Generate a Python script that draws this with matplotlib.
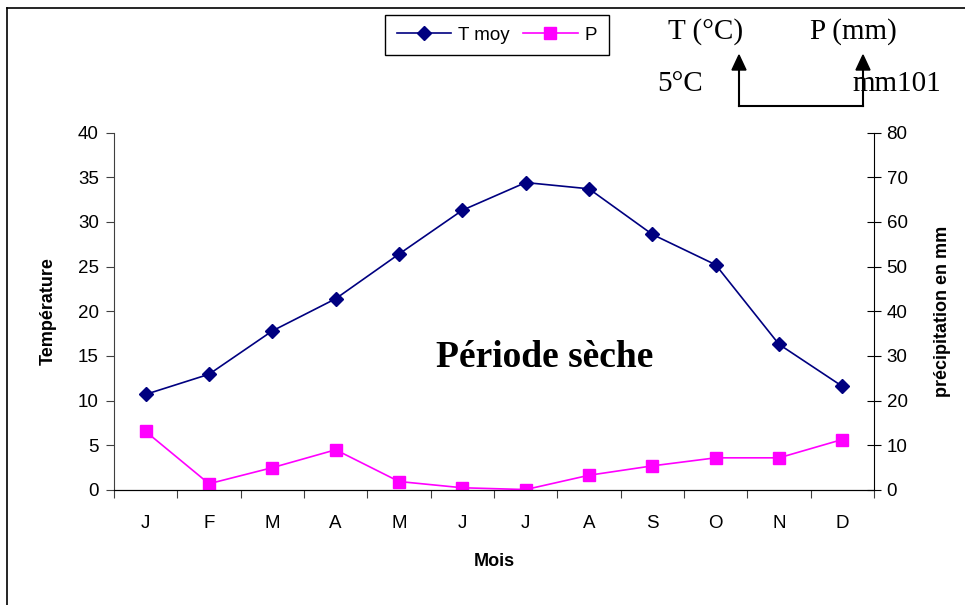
import matplotlib.pyplot as plt
from matplotlib.lines import Line2D

# Données climatiques mensuelles
mois = ['J', 'F', 'M', 'A', 'M', 'J', 'J', 'A', 'S', 'O', 'N', 'D']
t_moy = [10.7, 12.95, 17.8, 21.4, 26.4, 31.3, 34.4, 33.7, 28.6, 25.2, 16.3, 11.6]
precip = [13.1, 1.4, 5.0, 9.0, 1.9, 0.5, 0.1, 3.3, 5.4, 7.2, 7.2, 11.3]

t_ticks = list(range(0, 45, 5))
p_ticks = list(range(0, 90, 10))

W, H = 965, 605
fig = plt.figure(figsize=(W / 100, H / 100), dpi=100)
fig.patch.set_facecolor('white')

sans = ['Liberation Sans', 'DejaVu Sans']
serif = ['Liberation Serif', 'DejaVu Serif']


def fx(px):
    return px / W


def fy(py):
    return 1 - py / H


# cadre de la zone graphique
fig.add_artist(Line2D([fx(7), fx(7)], [fy(8), fy(605)], color='black', lw=1.2))
fig.add_artist(Line2D([fx(7), fx(965)], [fy(8), fy(8)], color='black', lw=1.2))

ax = fig.add_axes([fx(114), fy(490), fx(874) - fx(114), fy(132.5) - fy(490)])
ax2 = ax.twinx()

x = list(range(len(mois)))
l1, = ax.plot(x, t_moy, color='#000080', lw=1.2, marker='D', markersize=6.8,
              label='T moy')
l2, = ax2.plot(x, precip, color='#FF00FF', lw=1.2, marker='s', markersize=8,
               label='P')

ax.set_xlim(-0.5, len(mois) - 0.5)
ax.set_ylim(0, 40)
ax2.set_ylim(0, 80)

# graduations entre les catégories, libellés au centre
ax.set_xticks([i - 0.5 for i in range(len(mois) + 1)])
ax.set_xticklabels([])
ax.set_xticks(x, minor=True)
ax.set_xticklabels(mois, minor=True, family=sans, fontsize=13.5)
ax.tick_params(axis='x', which='major', direction='out', length=6, color='#404040')
ax.tick_params(axis='x', which='minor', length=0, pad=18)

ax.set_yticks(t_ticks)
ax.set_yticklabels([str(v) for v in t_ticks], family=sans, fontsize=13.5)
ax.tick_params(axis='y', direction='out', length=6, color='#404040', pad=5)

ax2.set_yticks(p_ticks)
ax2.set_yticklabels([str(v) for v in p_ticks], family=sans, fontsize=13.5)
ax2.tick_params(axis='y', direction='inout', length=10, color='black', pad=4)

for a in (ax, ax2):
    a.spines['top'].set_visible(False)
ax.spines['left'].set_color('#404040')
ax2.spines['left'].set_visible(False)
ax.spines['right'].set_visible(False)
ax2.spines['right'].set_color('black')
ax.spines['bottom'].set_color('black')

ax.set_xlabel('Mois', family=sans, fontsize=13, fontweight='bold', labelpad=15)
ax.set_ylabel('Température', family=sans, fontsize=13, fontweight='bold', labelpad=15)
ax2.set_ylabel('précipitation en mm', family=sans, fontsize=13, fontweight='bold',
               labelpad=19)

ax.text(6.3, 14.8, 'Période sèche', family=serif, fontsize=27, fontweight='bold',
        ha='center', va='center')

leg = fig.legend(handles=[l1, l2], loc='center', ncol=2,
                 bbox_to_anchor=(fx(497), fy(35)), prop={'family': sans, 'size': 13.5},
                 frameon=True, fancybox=False, edgecolor='black', framealpha=1,
                 handlelength=2.9, columnspacing=0.7, handletextpad=0.4,
                 borderpad=0.6)
leg.get_frame().set_linewidth(1.0)

# schéma des échelles T / P
fig.text(fx(706), fy(32), 'T (°C)', family=serif, fontsize=21, ha='center', va='center')
fig.text(fx(853), fy(32), 'P (mm)', family=serif, fontsize=21, ha='center', va='center')
fig.text(fx(680), fy(84), '5°C', family=serif, fontsize=21, ha='center', va='center')
fig.text(fx(897), fy(84), 'mm101', family=serif, fontsize=21, ha='center', va='center')

fig.add_artist(Line2D([fx(739), fx(863)], [fy(106), fy(106)], color='black', lw=1.5))
for xa in (739, 863):
    fig.add_artist(Line2D([fx(xa), fx(xa)], [fy(106), fy(66)], color='black', lw=1.5))
    fig.add_artist(plt.Polygon([[fx(xa - 7), fy(70)], [fx(xa + 7), fy(70)],
                                [fx(xa), fy(55)]], closed=True, color='black',
                               transform=fig.transFigure))

fig.savefig('out.png', dpi=100)
